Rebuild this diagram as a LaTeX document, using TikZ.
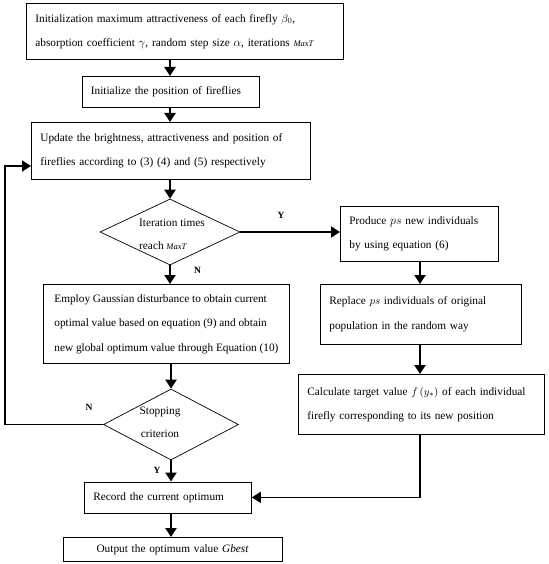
\documentclass[tikz,border=0pt]{standalone}
\usepackage{fontspec}
\setmainfont{Liberation Serif}
\usetikzlibrary{arrows.meta,shapes.geometric}
\begin{document}
\begin{tikzpicture}[x=1pt,y=-1pt,
  box/.style={draw,line width=0.8pt,anchor=north west,align=left,inner xsep=9pt,inner ysep=0pt,font=\fontsize{11.3}{24.5}\selectfont},
  dia/.style={draw,diamond,line width=0.7pt,inner sep=0pt},
  dtext/.style={align=left,inner sep=0pt,font=\fontsize{11.3}{23}\selectfont},
  flow/.style={line width=2.4pt,-{Triangle[length=9pt,width=11pt]}},
  loopline/.style={line width=1.8pt,-{Triangle[length=9pt,width=11pt]}},
  thinflow/.style={line width=1.3pt,-{Triangle[length=9pt,width=11pt]}},
  lbl/.style={font=\fontsize{9.5}{9.5}\selectfont\bfseries,inner sep=0pt}
]
\useasboundingbox (0,0) rectangle (548,564);
\coordinate (mx) at (170,0);
\coordinate (rx) at (420,0);
\coordinate (lx) at (5,0);
\coordinate (ly) at (0,166);

\node[box,text width=299pt,minimum width=317pt,minimum height=55.5pt] (b1) at (26,3.5)
  {Initialization maximum attractiveness of each firefly $\beta_0$,\\absorption coefficient {\large$\gamma$}, random step size {\large$\alpha$}, iterations {\fontsize{8.5}{8.5}\selectfont\itshape MaxT}};
\node[box,text width=159.5pt,minimum width=177.5pt,minimum height=31pt] (b2) at (81.5,76)
  {Initialize the position of fireflies};
\node[box,text width=261pt,minimum width=279pt,minimum height=57pt] (b3) at (31,122)
  {Update the brightness, attractiveness and position of\\fireflies according to (3) (4) and (5) respectively};
\node[dia,minimum width=140pt,minimum height=66pt] (d1) at (170,232) {};
\node[dtext] (d1t) at (172,234) {Iteration times\\reach {\fontsize{8.5}{8.5}\selectfont\itshape MaxT}};
\node[box,text width=139.5pt,minimum width=157.5pt,minimum height=55pt] (produce) at (340,206)
  {Produce {\large$ps$} new individuals\\by using equation (6)};
\node[box,inner xsep=0pt,minimum width=246pt,minimum height=79pt] (employ) at (43,284)
  {Employ Gaussian disturbance to obtain current\\optimal value based on equation (9) and obtain\\new global optimum value through Equation (10)};
\node[box,text width=183pt,minimum width=201pt,minimum height=60pt] (replace) at (320,284)
  {Replace $ps$ individuals of original\\population in the random way};
\node[box,text width=228pt,minimum width=246pt,minimum height=60pt] (calc) at (298,374)
  {Calculate target value $f\,(y_*)$ of each individual\\firefly corresponding to its new position};
\node[dia,minimum width=135pt,minimum height=71pt] (d2) at (171,424.5) {};
\node[dtext,align=center] (d2t) at (160,422) {Stopping\\criterion};
\node[box,text width=149pt,minimum width=167pt,minimum height=31pt] (record) at (84,481.5)
  {Record the current optimum};
\node[box,align=center,text width=200.5pt,minimum width=218.5pt,minimum height=24pt] (output) at (63,537)
  {Output the optimum value \textit{Gbest}};

\draw[flow] (b1.south -| mx) -- (b2.north -| mx);
\draw[flow] (b2.south -| mx) -- (b3.north -| mx);
\draw[flow] (b3.south -| mx) -- (d1.north);
\draw[flow] (d1.south) -- (employ.north -| d1.south);
\draw[flow] (d1.east) -- (d1.east -| produce.west);
\draw[flow] (produce.south -| rx) -- (replace.north -| rx);
\draw[flow] (replace.south -| rx) -- (calc.north -| rx);
\draw[flow] (employ.south -| d2.north) -- (d2.north);
\draw[flow] (d2.south) -- (record.north -| d2.south);
\draw[flow] (record.south -| d2.south) -- (output.north -| d2.south);
\draw[thinflow] (calc.south -| rx) |- (record.east);
\draw[loopline] (d2.west) -- (d2.west -| lx) -- (lx |- ly) -- (b3.west |- ly);

\node[lbl] (ly1) at (281,215) {Y};
\node[lbl] (ln1) at (197.5,270) {N};
\node[lbl] (ln2) at (89,407) {N};
\node[lbl] (ly2) at (157,470) {Y};
\end{tikzpicture}
\end{document}
